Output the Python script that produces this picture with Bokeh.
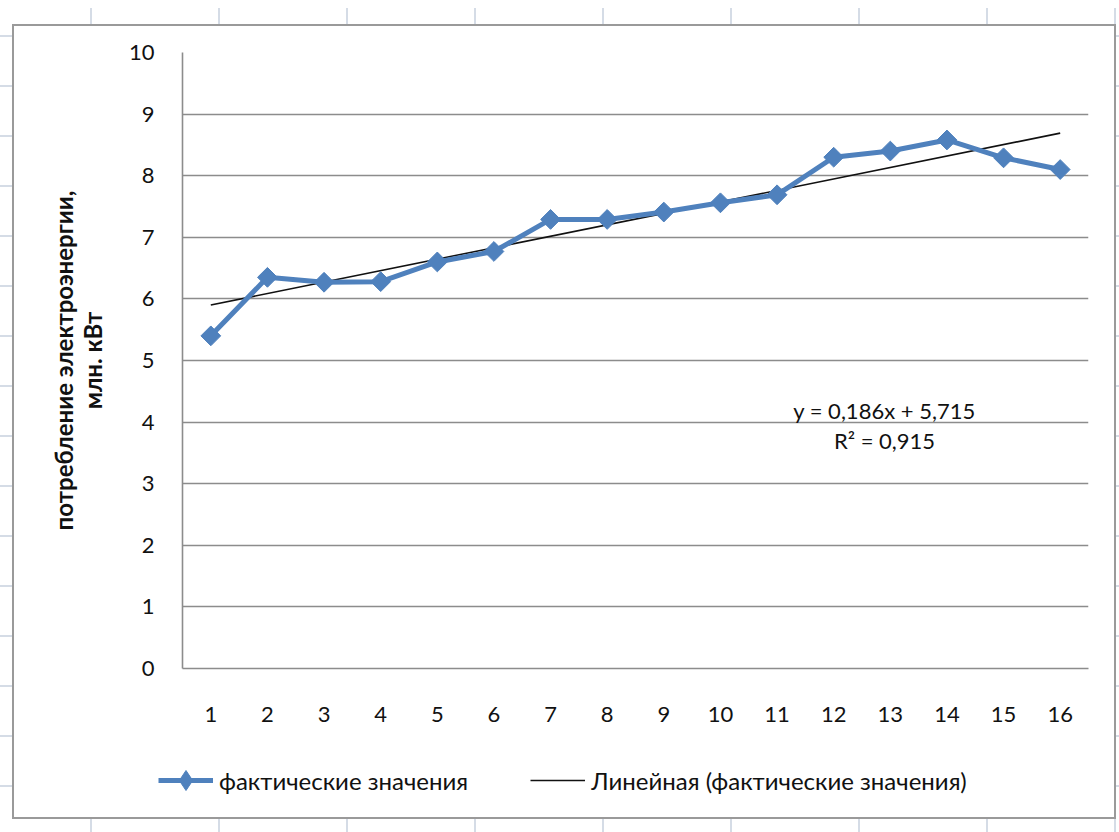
import numpy as np
from bokeh.plotting import figure
from bokeh.layouts import column
from bokeh.models import Range1d, FixedTicker, Legend, LegendItem, Label, ColumnDataSource
from bokeh.embed import file_html
from bokeh.resources import INLINE

# Monthly electricity consumption, mln kWh
periods = list(range(1, 17))
consumption = [5.40, 6.35, 6.27, 6.28, 6.60, 6.77, 7.29, 7.29,
               7.41, 7.56, 7.69, 8.30, 8.40, 8.58, 8.29, 8.10]

# Linear trend (as reported on the chart)
trend_slope = 0.186
trend_intercept = 5.715
r_squared = 0.915

y_ticks = list(range(0, 11))
series_label = "фактические значения"
trend_label = "Линейная (фактические значения)"
y_title = "потребление электроэнергии,\nмлн. кВт"

W, H = 1119, 832
CHART_H = 740           # main figure; the legend strip takes the rest
FONT = "Lato"
FS = "22px"             # numbers
FS_TXT = "24px"         # words
BLUE = "#4F81BD"
GRID = "#8c8c8c"
SHEET = "#d5dce6"
INK = "#111111"

# white chart box with grey border on a spreadsheet background (CSS layers)
sheet_bg = ", ".join([
    "linear-gradient(#ffffff, #ffffff) 14px 26px / 1100px 791px no-repeat",
    "linear-gradient(#9a9a9a, #9a9a9a) 12px 24px / 1104px 795px no-repeat",
    f"linear-gradient(90deg, {SHEET} 0px, {SHEET} 2px, transparent 2px) 90px 8px / 128px 830px repeat-x",
    f"linear-gradient({SHEET} 0px, {SHEET} 2px, transparent 2px) 0px 135px / 100% 50px repeat-y",
    "#ffffff",
])

src = ColumnDataSource(data=dict(x=periods, y=consumption))
tx = np.array([periods[0], periods[-1]], dtype=float)
trend_src = ColumnDataSource(data=dict(x=tx, y=trend_slope * tx + trend_intercept))

p = figure(width=W, height=CHART_H, output_backend="svg", toolbar_location=None,
           x_range=Range1d(0.5, 16.5), y_range=Range1d(0, 10),
           min_border_left=182, min_border_right=31,
           min_border_top=52, min_border_bottom=CHART_H - 668)
p.frame_align = False
p.outline_line_color = None
p.background_fill_color = "white"
p.border_fill_color = None

# axes
p.xaxis.ticker = FixedTicker(ticks=periods)
p.yaxis.ticker = FixedTicker(ticks=y_ticks)
for ax in (p.xaxis[0], p.yaxis[0]):
    ax.axis_line_color = GRID
    ax.axis_line_width = 1.6
    ax.major_tick_line_color = None
    ax.minor_tick_line_color = None
    ax.major_label_text_font = FONT
    ax.major_label_text_font_size = FS
    ax.major_label_text_color = INK
p.xaxis.major_label_standoff = 32
p.yaxis.major_label_standoff = 22
p.yaxis.axis_label = y_title
p.yaxis.axis_label_text_font = FONT
p.yaxis.axis_label_text_font_size = FS_TXT
p.yaxis.axis_label_text_font_style = "bold"
p.yaxis.axis_label_text_color = INK
p.yaxis.axis_label_text_line_height = 1.0
p.yaxis.axis_label_standoff = 19
p.xgrid.grid_line_color = None
p.ygrid.grid_line_color = GRID
p.ygrid.grid_line_width = 1.6

# trend line and actual values
trend_style = dict(line_color=INK, line_width=1.6)
line_style = dict(line_color=BLUE, line_width=5)
p.line("x", "y", source=trend_src, **trend_style)
p.line("x", "y", source=src, **line_style)
p.scatter("x", "y", source=src, marker="square", angle=np.pi / 4, size=14,
          fill_color=BLUE, line_color=BLUE)

# trend equation
fmt = lambda v: f"{v:.3f}".replace(".", ",")
eq_style = dict(x_units="screen", y_units="screen", text_font=FONT,
                text_font_size=FS, text_align="center", text_baseline="middle",
                text_color=INK)
p.add_layout(Label(x=702, y=258, text=f"y = {fmt(trend_slope)}x + {fmt(trend_intercept)}", **eq_style))
p.add_layout(Label(x=702, y=228, text=f"R² = {fmt(r_squared)}", **eq_style))

# legend strip under the chart (series drawn out of view, only their keys show)
leg = figure(width=W, height=H - CHART_H, output_backend="svg", toolbar_location=None,
             x_range=Range1d(-2, -1), y_range=Range1d(-2, -1), min_border=0,
             x_axis_location=None, y_axis_location=None)
leg.frame_align = False
leg.grid.visible = False
leg.outline_line_color = None
leg.background_fill_alpha = 0
leg.border_fill_color = None
key_line = leg.line("x", "y", source=src, **line_style)
key_mark = leg.scatter("x", "y", source=src, marker="diamond",
                       fill_color=BLUE, line_color=BLUE)
key_trend = leg.line("x", "y", source=trend_src, **trend_style)
legend = Legend(items=[LegendItem(label=series_label, renderers=[key_line, key_mark]),
                       LegendItem(label=trend_label, renderers=[key_trend])],
                orientation="horizontal", location=(158, 27),
                padding=0, margin=0, spacing=62, glyph_width=55, glyph_height=50,
                label_standoff=6, label_text_font=FONT, label_text_font_size=FS_TXT,
                label_text_color=INK, border_line_alpha=0,
                background_fill_alpha=0)
leg.add_layout(legend)

page = column(p, leg, spacing=0, styles={"background": sheet_bg})
open("out.html", "w").write(file_html(page, INLINE))
